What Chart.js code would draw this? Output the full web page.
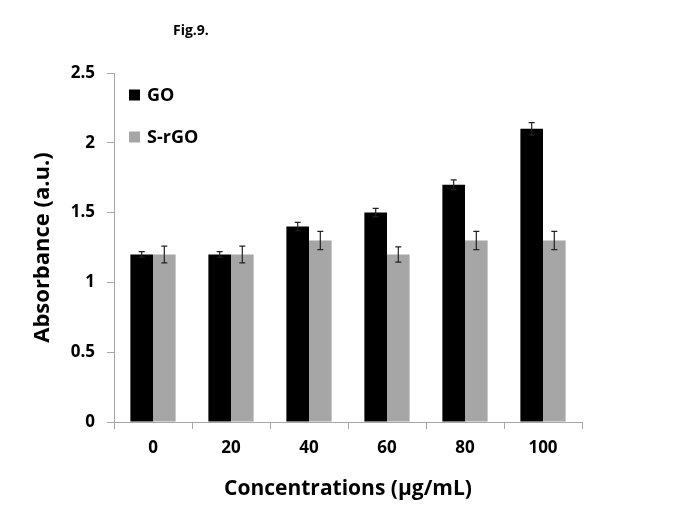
<!DOCTYPE html>
<html>
<head>
<meta charset="utf-8">
<script src="https://cdn.jsdelivr.net/npm/chart.js@4"></script>
<style>
  html, body { margin: 0; padding: 0; background: #fff; }
  #wrap { width: 685px; height: 513px; }
</style>
</head>
<body>
<div id="wrap"><canvas id="fig9"></canvas></div>
<script>
// values
var concentrations = ['0', '20', '40', '60', '80', '100'];
var go_values = [1.2, 1.2, 1.4, 1.5, 1.7, 2.1];
var go_errors = [0.02, 0.02, 0.03, 0.03, 0.035, 0.045];
var srgo_values = [1.2, 1.2, 1.3, 1.2, 1.3, 1.3];
var srgo_errors = [0.06, 0.06, 0.065, 0.055, 0.065, 0.065];
var y_ticks = [0, 0.5, 1, 1.5, 2, 2.5];

var FONT = "'Open Sans', 'Noto Sans', sans-serif";
var AXIS_GREY = '#a6a6a6';

// error bars, drawn from the bar elements and the y scale
const errorBars = {
  id: 'errorBars',
  afterDatasetsDraw(chart) {
    const ctx = chart.ctx;
    const yScale = chart.scales.y;
    chart.data.datasets.forEach(function (ds, i) {
      const meta = chart.getDatasetMeta(i);
      meta.data.forEach(function (bar, j) {
        const v = ds.data[j];
        const e = ds.errors[j];
        const top = yScale.getPixelForValue(v + e);
        const bot = yScale.getPixelForValue(v - e);
        ctx.save();
        ctx.strokeStyle = '#222';
        ctx.lineWidth = 1.2;
        ctx.beginPath();
        ctx.moveTo(bar.x, top); ctx.lineTo(bar.x, bot);
        ctx.moveTo(bar.x - 3, top); ctx.lineTo(bar.x + 3, top);
        ctx.moveTo(bar.x - 3, bot); ctx.lineTo(bar.x + 3, bot);
        ctx.stroke();
        ctx.restore();
      });
    });
  }
};

// legend inside the plot + the "Fig.9." caption
const extras = {
  id: 'extras',
  afterDraw(chart) {
    const ctx = chart.ctx;
    const area = chart.chartArea;
    ctx.save();
    ctx.fillStyle = '#000';
    ctx.font = 'bold 14px ' + FONT;
    ctx.textBaseline = 'middle';
    ctx.textAlign = 'left';
    ctx.fillText('Fig.9.', 173, 31);

    ctx.font = 'bold 18px ' + FONT;
    chart.data.datasets.forEach(function (ds, i) {
      const y = area.top + 22 + i * 42;
      ctx.fillStyle = ds.backgroundColor;
      ctx.fillRect(area.left + 15, y - 5.5, 11, 11);
      ctx.fillStyle = '#000';
      ctx.fillText(ds.label, area.left + 33, y + 1);
    });
    ctx.restore();
  }
};

const ctx = document.getElementById('fig9').getContext('2d');
const chart = new Chart(ctx, {
  type: 'bar',
  data: {
    labels: concentrations,
    datasets: [
      { label: 'GO', data: go_values, errors: go_errors, backgroundColor: '#000000', categoryPercentage: 0.58, barPercentage: 1.0 },
      { label: 'S-rGO', data: srgo_values, errors: srgo_errors, backgroundColor: '#a6a6a6', categoryPercentage: 0.58, barPercentage: 1.0 }
    ]
  },
  options: {
    responsive: true,
    maintainAspectRatio: false,
    animation: false,
    layout: { padding: { top: 73, right: 103, bottom: 0, left: 0 } },
    plugins: {
      legend: { display: false },
      tooltip: { enabled: false }
    },
    scales: {
      x: {
        border: { color: AXIS_GREY, width: 1 },
        grid: { drawOnChartArea: false, drawTicks: true, tickLength: 7, color: AXIS_GREY, offset: true },
        ticks: { color: '#000', font: { family: FONT, size: 17, weight: 'bold' }, padding: 9 },
        title: { display: true, text: 'Concentrations (µg/mL)', color: '#000', font: { family: FONT, size: 21, weight: 'bold' }, padding: { top: 0, bottom: 11 } },
        afterFit(scale) { scale.height = 91; }
      },
      y: {
        min: 0,
        max: 2.5,
        border: { color: AXIS_GREY, width: 1 },
        grid: { drawOnChartArea: false, drawTicks: true, tickLength: 7, color: AXIS_GREY },
        afterBuildTicks(scale) { scale.ticks = y_ticks.map(function (v) { return { value: v }; }); },
        ticks: {
          color: '#000', font: { family: FONT, size: 17, weight: 'bold' }, padding: 12,
          callback: function (v) { return String(v); }
        },
        title: { display: true, text: 'Absorbance (a.u.)', color: '#000', font: { family: FONT, size: 22, weight: 'bold' }, padding: { top: 30, bottom: 0 } },
        afterFit(scale) { scale.width = 114; }
      }
    }
  },
  plugins: [errorBars, extras]
});
</script>
</body>
</html>
